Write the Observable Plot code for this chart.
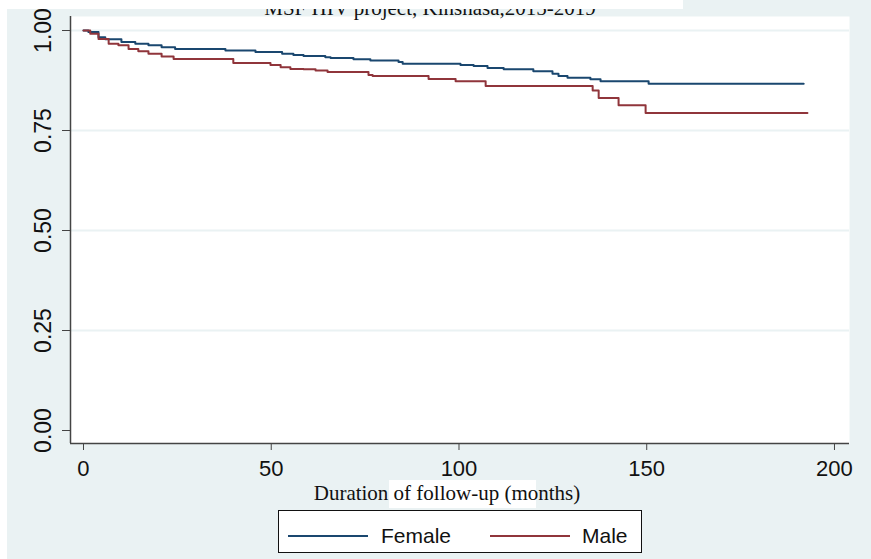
<!DOCTYPE html>
<html><head><meta charset="utf-8">
<script src="https://cdn.jsdelivr.net/npm/d3@7"></script>
<script src="https://cdn.jsdelivr.net/npm/@observablehq/plot@0.6"></script>
<style>
html,body{margin:0;padding:0;background:#fff;}
#wrap{position:relative;width:871px;height:559px;background:#eaf2f3;overflow:hidden;}
#chart{position:absolute;left:0;top:0;}
#topband{position:absolute;left:0;top:0;width:683px;height:9px;background:#fff;}
#leftband{position:absolute;left:0;top:0;width:7px;height:559px;background:#fff;}
#titleclip{position:absolute;left:0;top:9px;width:871px;height:11px;overflow:hidden;}
#title{position:absolute;left:230px;width:400px;top:-11px;text-align:center;font:21px/21px "Liberation Serif","Times New Roman",serif;color:#111;white-space:nowrap;}
#xpatch{position:absolute;left:389px;top:480px;width:147px;height:28px;background:#fff;}
#xlabel{position:absolute;left:247px;width:400px;top:483px;text-align:center;font:21px/21px "Liberation Serif","Times New Roman",serif;color:#111;white-space:nowrap;}
#legend{position:absolute;left:278px;top:510px;width:364px;height:43px;box-sizing:border-box;border:1px solid #111;background:#fff;}
.sw{position:absolute;height:2px;width:80px;top:24px;}
.lt{position:absolute;top:14px;font:21px/21px "Liberation Sans",Arial,sans-serif;color:#111;white-space:nowrap;}
</style></head><body>
<div id="wrap">
  <div id="leftband"></div>
  <div id="xpatch"></div>
  <div id="chart"></div>
  <div id="topband"></div>
  <div id="titleclip"><div id="title">MSF HIV project, Kinshasa,2015-2019</div></div>
  <div id="xlabel">Duration of follow-up (months)</div>
  <div id="legend"></div>
</div>
<script>
// Kaplan-Meier step estimates
const femaleTime = [0, 1.3, 4.0, 5.8, 10.1, 13.8, 17.3, 20.8, 24.4, 37.8, 45.8, 52.9, 55.9, 58.6, 64.4, 65.8, 71.9, 76.4, 83.9, 85.0, 100.4, 103.9, 107.6, 111.9, 119.8, 124.9, 126.5, 128.9, 135.0, 137.7, 150.5, 191.8];
const femaleSurv = [1.000, 0.996, 0.983, 0.978, 0.971, 0.967, 0.963, 0.958, 0.954, 0.950, 0.946, 0.942, 0.939, 0.936, 0.933, 0.931, 0.928, 0.925, 0.921, 0.917, 0.914, 0.911, 0.906, 0.903, 0.898, 0.892, 0.886, 0.882, 0.878, 0.873, 0.867, 0.867];
const maleTime = [0, 1.8, 4.0, 6.7, 9.3, 12.0, 14.6, 17.3, 20.8, 24.0, 39.9, 49.8, 52.5, 55.1, 58.6, 61.8, 65.0, 75.9, 77.0, 91.9, 99.1, 107.1, 135.6, 137.2, 142.5, 149.7, 192.8];
const maleSurv = [1.000, 0.992, 0.979, 0.967, 0.963, 0.954, 0.948, 0.942, 0.935, 0.929, 0.919, 0.914, 0.908, 0.904, 0.903, 0.900, 0.896, 0.889, 0.886, 0.879, 0.873, 0.861, 0.850, 0.831, 0.813, 0.794, 0.794];

const seriesNames = ["Female", "Male"];
const seriesColors = ["#1a476f", "#90353b"];
const xTicks = [0, 50, 100, 150, 200];
const yTicks = [0, 0.25, 0.5, 0.75, 1];
const yGrid = [0.25, 0.5, 0.75, 1];

const xDomain = [-3.46, 204];
const yDomain = [-0.0325, 1.035];

const rows = [
  ...femaleTime.map((t, i) => ({t, s: femaleSurv[i], g: seriesNames[0]})),
  ...maleTime.map((t, i) => ({t, s: maleSurv[i], g: seriesNames[1]}))
];

const chart = Plot.plot({
  width: 871,
  height: 505,
  marginLeft: 70,
  marginRight: 22,
  marginTop: 16,
  marginBottom: 62,
  style: {background: "transparent", fontFamily: "'Liberation Sans', Arial, sans-serif", fontSize: "21px", color: "#111", overflow: "visible"},
  x: {domain: xDomain, label: null},
  y: {domain: yDomain, label: null},
  color: {domain: seriesNames, range: seriesColors},
  marks: [
    Plot.frame({fill: "white", stroke: null}),
    Plot.gridY(yGrid, {stroke: "#eaf2f3", strokeOpacity: 1, strokeWidth: 2}),
    Plot.axisX(xTicks, {tickSize: 7, tickPadding: 10, stroke: "#444", tickFormat: d => String(d), label: null, fontSize: 22}),
    Plot.axisY(yTicks, {tickSize: 8, tickPadding: 12, tickRotate: -90, stroke: "#444", tickFormat: d3.format(".2f"), label: null, fontSize: 23}),
    Plot.ruleX([xDomain[0]], {stroke: "#444", strokeWidth: 1.5}),
    Plot.ruleY([yDomain[0]], {stroke: "#444", strokeWidth: 1.5}),
    Plot.line(rows, {x: "t", y: "s", z: "g", stroke: "g", curve: "step-after", strokeWidth: 2})
  ]
});
document.getElementById("chart").appendChild(chart);

// legend
const legend = document.getElementById("legend");
const swLeft = [9, 211];
const txtLeft = [102, 303];
seriesNames.forEach((name, i) => {
  const sw = document.createElement("span");
  sw.className = "sw";
  sw.style.left = swLeft[i] + "px";
  sw.style.background = seriesColors[i];
  legend.appendChild(sw);
  const tx = document.createElement("span");
  tx.className = "lt";
  tx.style.left = txtLeft[i] + "px";
  tx.textContent = name;
  legend.appendChild(tx);
});
</script>
</body></html>
